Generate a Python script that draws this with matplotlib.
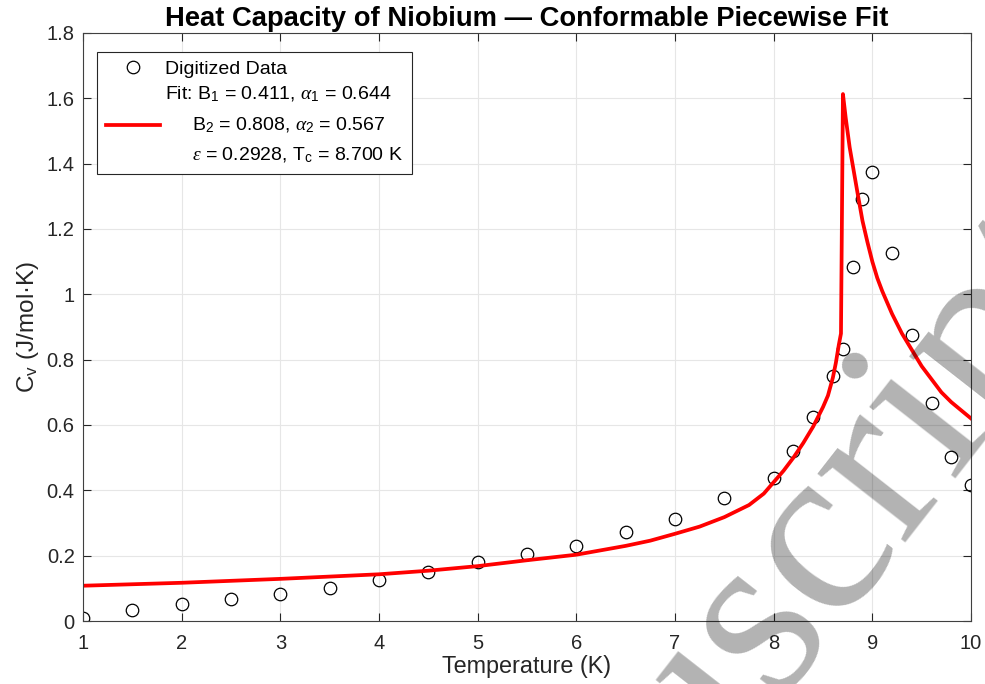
import matplotlib.pyplot as plt

plt.rcParams['font.family'] = ['Liberation Sans', 'DejaVu Sans']
plt.rcParams['mathtext.fontset'] = 'custom'
plt.rcParams['mathtext.rm'] = 'Liberation Sans'
plt.rcParams['mathtext.it'] = 'Liberation Serif:italic'

# digitized measurements
temp_data = [1, 1.5, 2, 2.5, 3, 3.5, 4, 4.5, 5, 5.5, 6, 6.5, 7, 7.5, 8,
             8.2, 8.4, 8.6, 8.7, 8.8, 8.9, 9.0, 9.2, 9.4, 9.6, 9.8, 10]
cv_data = [0.009, 0.034, 0.052, 0.067, 0.083, 0.101, 0.126, 0.150, 0.181, 0.205,
           0.230, 0.272, 0.312, 0.376, 0.438, 0.520, 0.624, 0.750, 0.833, 1.084,
           1.292, 1.374, 1.126, 0.875, 0.667, 0.502, 0.416]

# fit curve
temp_fit = [1, 2, 3, 4, 4.5, 5, 5.5, 6, 6.5, 6.75, 7, 7.25, 7.5, 7.75, 7.9,
            8.0, 8.1, 8.2, 8.3, 8.4, 8.45, 8.5, 8.55, 8.6, 8.63, 8.66, 8.682,
            8.702, 8.73, 8.77, 8.81, 8.85, 8.9, 8.95, 9.0, 9.05, 9.1, 9.15,
            9.2, 9.3, 9.4, 9.5, 9.6, 9.7, 9.8, 9.9, 10]
cv_fit = [0.108, 0.117, 0.129, 0.143, 0.154, 0.168, 0.186, 0.203, 0.230, 0.246,
          0.267, 0.289, 0.318, 0.355, 0.390, 0.425, 0.460, 0.500, 0.545, 0.595,
          0.625, 0.655, 0.690, 0.745, 0.790, 0.845, 0.880,
          1.613, 1.540, 1.450, 1.380, 1.310, 1.225, 1.160, 1.100, 1.050, 1.010,
          0.975, 0.940, 0.880, 0.830, 0.780, 0.740, 0.700, 0.670, 0.645, 0.620]

xticks = list(range(1, 11))
yticks = [0, 0.2, 0.4, 0.6, 0.8, 1.0, 1.2, 1.4, 1.6, 1.8]
ytick_labels = ['0', '0.2', '0.4', '0.6', '0.8', '1', '1.2', '1.4', '1.6', '1.8']

fig = plt.figure(figsize=(9.85, 6.84), dpi=100)
ax = fig.add_axes([0.0843, 0.0921, 0.9015, 0.8597])

ax.plot(temp_data, cv_data, 'o', mfc='none', mec='black', ms=9, mew=0.9,
        label='Digitized Data')
fit_label = ('Fit: B$_1$ = 0.411, $\\alpha_1$ = 0.644\n'
             '     B$_2$ = 0.808, $\\alpha_2$ = 0.567\n'
             '     $\\epsilon$ = 0.2928, T$_\\mathrm{c}$ = 8.700 K')
ax.plot(temp_fit, cv_fit, '-', color='red', lw=2.7, label=fit_label)

ax.set_xlim(1, 10)
ax.set_ylim(0, 1.8)
ax.set_xticks(xticks)
ax.set_yticks(yticks)
ax.set_yticklabels(ytick_labels)
ax.tick_params(direction='in', top=True, right=True, labelsize=14.5,
               color='#262626', labelcolor='#262626', length=6)
ax.tick_params(axis='x', pad=9)
ax.tick_params(axis='y', pad=6)
for s in ax.spines.values():
    s.set_color('#404040')
    s.set_linewidth(0.8)
ax.grid(True, color='#e6e6e6', lw=0.8)
ax.set_axisbelow(True)

ax.set_xlabel('Temperature (K)', fontsize=16.8, color='#262626', labelpad=2)
ax.set_ylabel('C$_\\mathrm{v}$ (J/mol·K)', fontsize=17.5, color='#262626', labelpad=4)
ax.set_title('Heat Capacity of Niobium — Conformable Piecewise Fit',
             fontsize=19.7, fontweight='bold', pad=5)

leg = ax.legend(loc='upper left', bbox_to_anchor=(0.0158, 0.968), fontsize=14,
                fancybox=False, framealpha=1, edgecolor='#262626',
                borderaxespad=0, borderpad=0.45, handlelength=2.8,
                handletextpad=0.26, labelspacing=0.35)
leg.get_frame().set_linewidth(0.8)
for t in leg.get_texts():
    t.set_linespacing(1.75)

# grey watermark over the plot
fig.text(0.434, -0.677, 'Manuscript', rotation=52, rotation_mode='anchor',
         ha='left', va='baseline', fontsize=175, family='Liberation Serif',
         color='black', alpha=0.3)

fig.savefig('out.png', dpi=100)
